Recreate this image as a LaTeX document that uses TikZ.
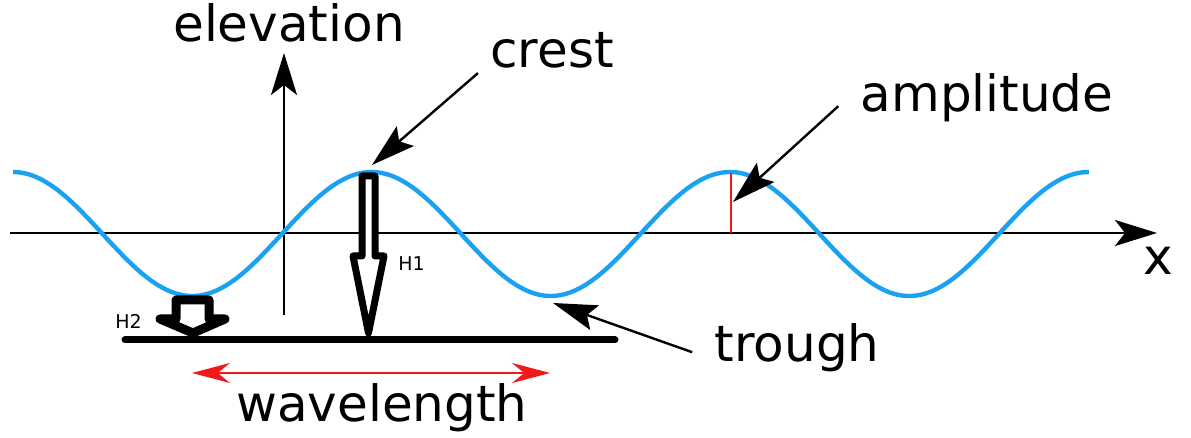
\documentclass[tikz,border=0pt]{standalone}
\usepackage{fontspec}
\setmainfont{DejaVu Sans}
\usepackage{tikz}
\usetikzlibrary{arrows.meta,calc}
\definecolor{WaveBlue}{HTML}{1BA1F2}
\definecolor{WaveRed}{HTML}{F01818}

\begin{document}
\begin{tikzpicture}[
  x=0.5pt, y=-0.5pt,
  axis/.style={line width=1.2pt, -{Stealth[length=21pt, width=13pt, inset=5pt]}},
  wave/.style={WaveBlue, line width=2.2pt},
  callout/.style={line width=1.2pt, -{Stealth[length=22pt, width=13pt, inset=4pt]}},
  span/.style={WaveRed, line width=1.3pt, {Stealth[length=19pt, width=10pt]}-{Stealth[length=19pt, width=10pt]}},
  word/.style={font=\fontsize{25}{30}\selectfont, inner sep=0pt, anchor=base},
  tag/.style={font=\fontsize{9.5}{11}\selectfont, inner sep=0pt, anchor=base west},
  hollow/.style={draw=black, fill=white, line join=round}
]
  \useasboundingbox (0,0) rectangle (1191,438);

  % axes
  \coordinate (x start) at (10,233);
  \coordinate (x end) at (1157,233);
  \coordinate (z start) at (284,315);
  \coordinate (z end) at (284,53);
  \draw[axis] (x start) -- (x end);
  \draw[axis] (z start) -- (z end);

  % the wave (wavelength 358.5 units)
  \draw[wave] plot[domain=13:1089, samples=240, smooth] (\x, {234-62*cos(1.004184*(\x-13))});

  % amplitude marker and wavelength span
  \coordinate (amp top) at (731,173);
  \coordinate (amp foot) at (731,233);
  \draw[WaveRed, line width=1.3pt] (amp top) -- (amp foot);
  \coordinate (span left) at (192,373);
  \coordinate (span right) at (550,373);
  \draw[span] (span left) -- (span right);

  % labels
  \node[word] (elevation) at (289,42) {elevation};
  \node[word] (crest) at (552,68) {crest};
  \node[word] (amplitude) at (987,112) {amplitude};
  \node[word] (trough) at (797,362) {trough};
  \node[word] (wavelength) at (382,422) {wavelength};
  \node[word] (xlabel) at (1158,275) {x};
  \node[tag] (h1) at (398,271) {H1};
  \node[tag] (h2) at (115,329) {H2};

  % callouts
  \coordinate (crest tip) at (372,165);
  \coordinate (amplitude tip) at (733,202);
  \coordinate (trough tip) at (553,303);
  \draw[callout] ($(crest.south west)+(-12,4)$) -- (crest tip);
  \draw[callout] ($(amplitude.west)+(-22,8)$) -- (amplitude tip);
  \draw[callout] ($(trough.west)+(-22,4)$) -- (trough tip);

  % reference level and the two heights
  \coordinate (level left) at (125,340);
  \coordinate (level right) at (615,340);
  \draw[line width=3.5pt, line cap=round] (level left) -- (level right);
  \draw[hollow, line width=3.5pt] (362,176) -- (375,176) -- (375,256) -- (384,256)
    -- (368.5,333) -- (353,256) -- (362,256) -- cycle;
  \draw[hollow, line width=4.5pt] (176,300) -- (209,300) -- (209,319) -- (225,319)
    -- (193,333) -- (160,319) -- (176,319) -- cycle;
\end{tikzpicture}
\end{document}
